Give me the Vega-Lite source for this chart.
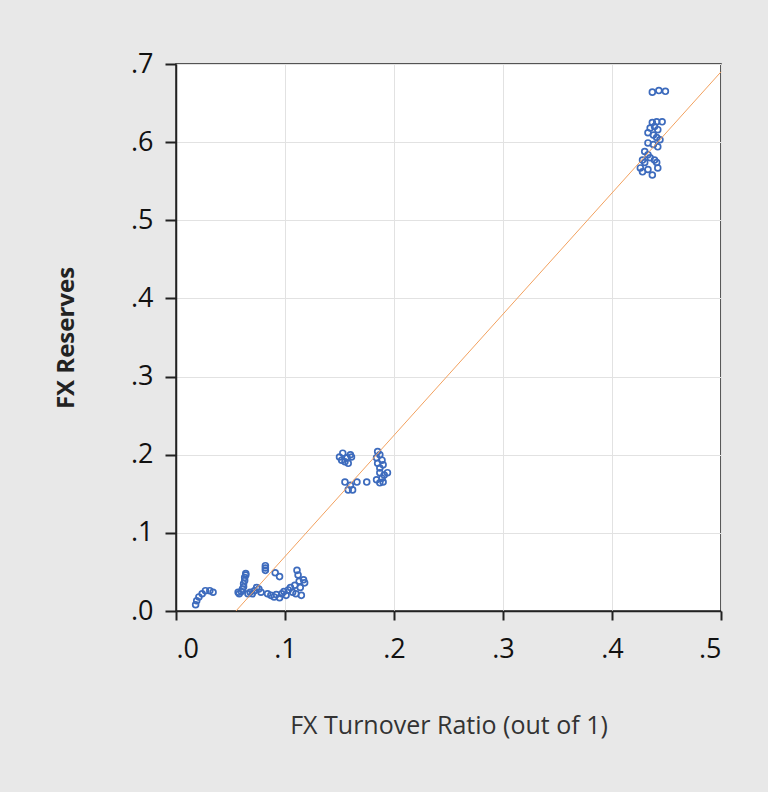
{
  "$schema": "https://vega.github.io/schema/vega-lite/v6.json",
  "width": 545,
  "height": 547,
  "autosize": {"type": "none"},
  "padding": {"left": 176, "top": 64, "right": 47, "bottom": 181},
  "background": "#e8e8e8",
  "config": {
    "view": {"fill": "white", "stroke": "#222222", "strokeWidth": 1.5},
    "font": "Open Sans"
  },
  "datasets": {
    "pts": [
      {"x": 0.018, "y": 0.008}, {"x": 0.019, "y": 0.013}, {"x": 0.021, "y": 0.018}, {"x": 0.024, "y": 0.022},
      {"x": 0.027, "y": 0.026}, {"x": 0.031, "y": 0.026}, {"x": 0.034, "y": 0.024},
      {"x": 0.058, "y": 0.022}, {"x": 0.060, "y": 0.025}, {"x": 0.061, "y": 0.028}, {"x": 0.062, "y": 0.031},
      {"x": 0.062, "y": 0.035}, {"x": 0.063, "y": 0.039}, {"x": 0.063, "y": 0.043}, {"x": 0.064, "y": 0.046},
      {"x": 0.064, "y": 0.048}, {"x": 0.057, "y": 0.024}, {"x": 0.066, "y": 0.022}, {"x": 0.068, "y": 0.024},
      {"x": 0.070, "y": 0.022}, {"x": 0.072, "y": 0.026}, {"x": 0.074, "y": 0.030}, {"x": 0.076, "y": 0.028},
      {"x": 0.078, "y": 0.024}, {"x": 0.082, "y": 0.052}, {"x": 0.082, "y": 0.055}, {"x": 0.082, "y": 0.058},
      {"x": 0.084, "y": 0.022}, {"x": 0.087, "y": 0.020}, {"x": 0.090, "y": 0.018}, {"x": 0.092, "y": 0.021},
      {"x": 0.095, "y": 0.017}, {"x": 0.097, "y": 0.022}, {"x": 0.099, "y": 0.025}, {"x": 0.101, "y": 0.020},
      {"x": 0.103, "y": 0.027}, {"x": 0.105, "y": 0.030}, {"x": 0.107, "y": 0.024}, {"x": 0.109, "y": 0.033},
      {"x": 0.110, "y": 0.022}, {"x": 0.111, "y": 0.052}, {"x": 0.112, "y": 0.046}, {"x": 0.113, "y": 0.038},
      {"x": 0.114, "y": 0.030}, {"x": 0.115, "y": 0.020}, {"x": 0.117, "y": 0.040}, {"x": 0.118, "y": 0.036},
      {"x": 0.091, "y": 0.049}, {"x": 0.095, "y": 0.044},
      {"x": 0.150, "y": 0.197}, {"x": 0.153, "y": 0.202}, {"x": 0.157, "y": 0.196}, {"x": 0.160, "y": 0.200},
      {"x": 0.161, "y": 0.197}, {"x": 0.158, "y": 0.189}, {"x": 0.155, "y": 0.191}, {"x": 0.152, "y": 0.193},
      {"x": 0.155, "y": 0.165}, {"x": 0.160, "y": 0.161}, {"x": 0.158, "y": 0.155}, {"x": 0.162, "y": 0.155},
      {"x": 0.166, "y": 0.165}, {"x": 0.175, "y": 0.165}, {"x": 0.184, "y": 0.168}, {"x": 0.187, "y": 0.164},
      {"x": 0.190, "y": 0.165},
      {"x": 0.185, "y": 0.204}, {"x": 0.187, "y": 0.200}, {"x": 0.184, "y": 0.196}, {"x": 0.189, "y": 0.193},
      {"x": 0.185, "y": 0.189}, {"x": 0.190, "y": 0.187}, {"x": 0.187, "y": 0.183}, {"x": 0.194, "y": 0.177},
      {"x": 0.191, "y": 0.174}, {"x": 0.187, "y": 0.177}, {"x": 0.189, "y": 0.170},
      {"x": 0.437, "y": 0.664}, {"x": 0.443, "y": 0.666}, {"x": 0.449, "y": 0.665},
      {"x": 0.437, "y": 0.625}, {"x": 0.441, "y": 0.626}, {"x": 0.446, "y": 0.626}, {"x": 0.435, "y": 0.618},
      {"x": 0.439, "y": 0.620}, {"x": 0.442, "y": 0.616}, {"x": 0.433, "y": 0.612}, {"x": 0.438, "y": 0.609},
      {"x": 0.441, "y": 0.606}, {"x": 0.444, "y": 0.603}, {"x": 0.433, "y": 0.599}, {"x": 0.438, "y": 0.597},
      {"x": 0.442, "y": 0.594}, {"x": 0.430, "y": 0.588}, {"x": 0.433, "y": 0.584}, {"x": 0.428, "y": 0.577},
      {"x": 0.430, "y": 0.574}, {"x": 0.426, "y": 0.567}, {"x": 0.428, "y": 0.562}, {"x": 0.433, "y": 0.565},
      {"x": 0.437, "y": 0.558}, {"x": 0.441, "y": 0.574}, {"x": 0.442, "y": 0.567}, {"x": 0.439, "y": 0.577},
      {"x": 0.435, "y": 0.580}
    ],
    "fit": [{"x": 0.055, "y": 0}, {"x": 0.5, "y": 0.69}]
  },
  "layer": [
    {
      "data": {"name": "pts"},
      "mark": {"type": "point", "shape": "circle", "filled": false, "color": "#3d6bbd", "strokeWidth": 1.7, "size": 34, "opacity": 1},
      "encoding": {
        "x": {
          "field": "x", "type": "quantitative",
          "scale": {"domain": [0, 0.5], "nice": false, "zero": false},
          "axis": {
            "values": [0, 0.1, 0.2, 0.3, 0.4, 0.5],
            "labelExpr": "replace(format(datum.value, '.1f'), '0.', '.')",
            "tickSize": 9, "tickColor": "#222222", "tickWidth": 2,
            "labelFontSize": 27, "labelColor": "#111111", "labelPadding": 16,
            "gridColor": "#e2e2e2", "gridWidth": 1,
            "domainColor": "#222222", "domainWidth": 1.5,
            "title": "FX Turnover Ratio (out of 1)",
            "titleFontSize": 25, "titleFontWeight": "normal", "titleColor": "#333333",
            "titleY": 114, "titleBaseline": "middle"
          }
        },
        "y": {
          "field": "y", "type": "quantitative",
          "scale": {"domain": [0, 0.7], "nice": false, "zero": false},
          "axis": {
            "values": [0, 0.1, 0.2, 0.3, 0.4, 0.5, 0.6, 0.7],
            "labelExpr": "replace(format(datum.value, '.1f'), '0.', '.')",
            "tickSize": 11, "tickColor": "#222222", "tickWidth": 2,
            "labelFontSize": 27, "labelColor": "#111111", "labelPadding": 12,
            "gridColor": "#e2e2e2", "gridWidth": 1,
            "domainColor": "#222222", "domainWidth": 1.5,
            "title": "FX Reserves",
            "titleFontSize": 24, "titleFontWeight": "bold", "titleColor": "#222222",
            "titleX": -110, "titleBaseline": "middle"
          }
        }
      }
    },
    {
      "data": {"name": "fit"},
      "mark": {"type": "line", "color": "#f2a15f", "strokeWidth": 1},
      "encoding": {
        "x": {"field": "x", "type": "quantitative"},
        "y": {"field": "y", "type": "quantitative"}
      }
    }
  ]
}
